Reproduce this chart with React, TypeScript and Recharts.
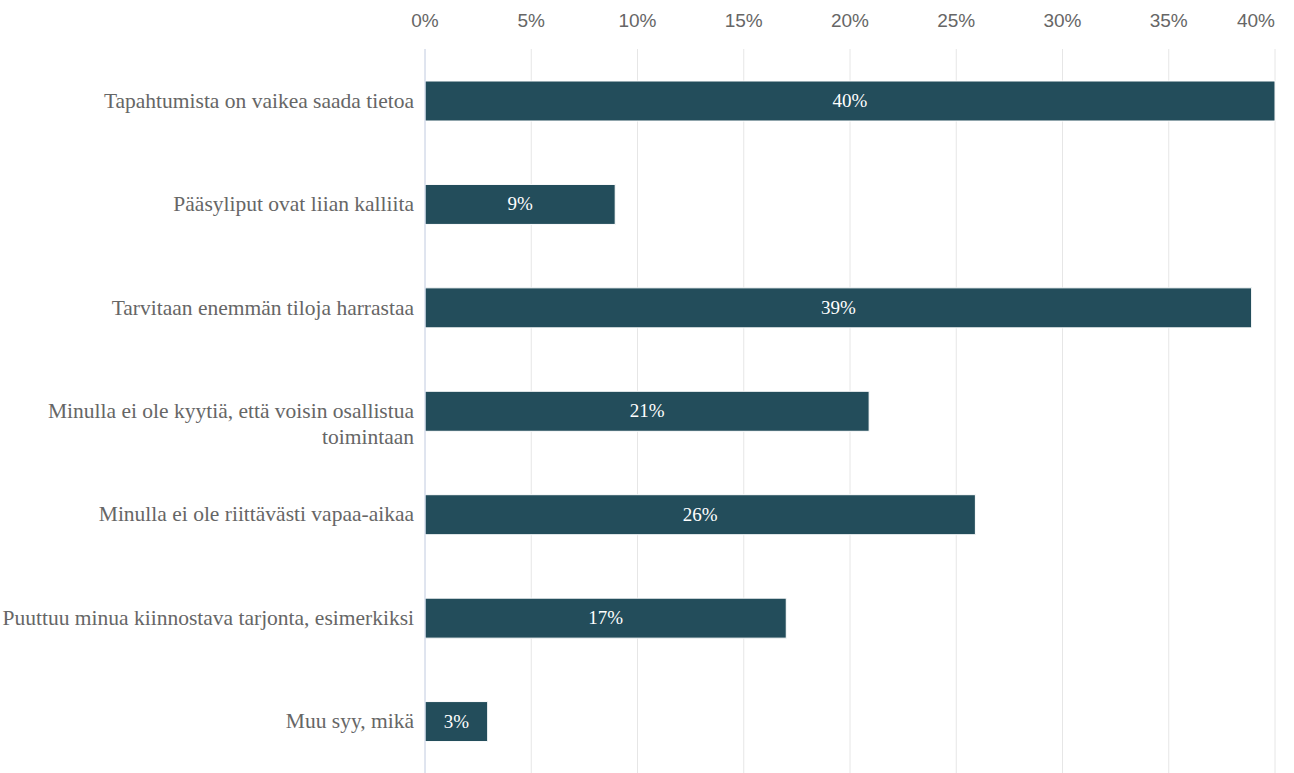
import React from "react";
import { BarChart, Bar, XAxis, YAxis, CartesianGrid, LabelList } from "recharts";

const categories = [
  "Tapahtumista on vaikea saada tietoa",
  "Pääsyliput ovat liian kalliita",
  "Tarvitaan enemmän tiloja harrastaa",
  "Minulla ei ole kyytiä, että voisin osallistua\ntoimintaan",
  "Minulla ei ole riittävästi vapaa-aikaa",
  "Puuttuu minua kiinnostava tarjonta, esimerkiksi",
  "Muu syy, mikä",
];
const values = [40, 8.95, 38.9, 20.9, 25.9, 17, 2.95];
const xTicks = [0, 5, 10, 15, 20, 25, 30, 35, 40];

const data = categories.map((c, i) => ({ name: c, value: values[i] }));

const SERIF = "Liberation Serif";
const SANS = "Liberation Sans";

const YTick = (props: any) => {
  const { x, y, payload } = props;
  const lines = String(payload.value).split("\n");
  return (
    <g>
      {lines.map((l: string, i: number) => (
        <text
          key={i}
          x={x}
          y={y + i * 26}
          dy={7}
          textAnchor="end"
          fill="#666666"
          style={{ fontFamily: SERIF, fontSize: 21.5 }}
        >
          {l}
        </text>
      ))}
    </g>
  );
};

const XTick = (props: any) => {
  const { x, y, payload } = props;
  const last = payload.value === xTicks[xTicks.length - 1];
  return (
    <text
      x={x}
      y={y}
      textAnchor={last ? "end" : "middle"}
      fill="#666666"
      style={{ fontFamily: SANS, fontSize: 19 }}
    >
      {`${payload.value}%`}
    </text>
  );
};

const renderBarLabel = (props: any) => {
  const { x, y, width, height, value } = props;
  return (
    <text
      x={x + width / 2}
      y={y + height / 2}
      dy={6}
      textAnchor="middle"
      fill="#ffffff"
      style={{ fontFamily: SERIF, fontSize: 19 }}
    >
      {`${Math.round(value)}%`}
    </text>
  );
};

export default function App() {
  return (
    <div style={{ position: "absolute", left: 0, top: 0, width: 1294, height: 773, background: "#fff", fontFamily: SERIF }}>
      <BarChart
        width={1294}
        height={773}
        data={data}
        layout="vertical"
        margin={{ top: 0, right: 19, bottom: 0, left: 0 }}
        barSize={40}
      >
        <CartesianGrid horizontal={false} vertical={true} stroke="#e6e6e6" />
        <XAxis
          type="number"
          orientation="top"
          domain={[0, 40]}
          ticks={xTicks}
          axisLine={false}
          tickLine={false}
          tickSize={0}
          tickMargin={22}
          height={49}
          interval={0}
          tick={<XTick />}
        />
        <YAxis
          type="category"
          dataKey="name"
          width={425}
          axisLine={{ stroke: "#ccd6eb" }}
          tickLine={false}
          tickSize={0}
          tickMargin={11}
          interval={0}
          tick={<YTick />}
        />
        <Bar dataKey="value" fill="#234d5b" stroke="#ffffff" strokeWidth={1} isAnimationActive={false}>
          <LabelList dataKey="value" content={renderBarLabel} />
        </Bar>
      </BarChart>
    </div>
  );
}
